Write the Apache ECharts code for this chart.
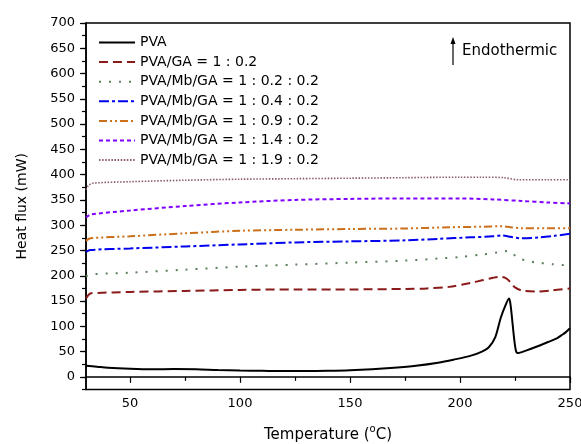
<!DOCTYPE html>
<html>
<head>
<meta charset="utf-8">
<script src="https://cdn.jsdelivr.net/npm/echarts@6/dist/echarts.min.js"></script>
<style>html,body{margin:0;padding:0;background:#fff;}#c{width:581px;height:444px;}</style>
</head>
<body>
<div id="c"></div>
<script>
// ---- data (temperature in °C, heat flux in mW) ----
const seriesNames = [
  'PVA',
  'PVA/GA = 1 : 0.2',
  'PVA/Mb/GA = 1 : 0.2 : 0.2',
  'PVA/Mb/GA = 1 : 0.4 : 0.2',
  'PVA/Mb/GA = 1 : 0.9 : 0.2',
  'PVA/Mb/GA = 1 : 1.4 : 0.2',
  'PVA/Mb/GA = 1 : 1.9 : 0.2'
];
const xTickLabels = [50, 100, 150, 200, 250];
const xMinorTicks = [75, 125, 175, 225];
const yTickLabels = [0,50,100,150,200,250,300,350,400,450,500,550,600,650,700];

const pva = [[30,22],[35,20],[40,18],[50,16],[60,15],[70,15.5],[80,15],[90,13.5],[100,12.5],[110,12],[120,11.5],[130,11.5],[140,12],[150,13],[160,15],[170,18],[180,22],[190,28],[197,34],[205,42],[210,50],[213,58],[216,78],[218.6,118],[221,145],[222.3,155],[223,142],[224.5,80],[225.4,52],[226.2,47],[230,52],[235,60],[240,69],[244,76],[246,82],[248,88],[250,96]];
const pvaGa = [[30,155],[32,165],[35,166],[50,168],[75,170],[100,172],[125,173],[150,173],[175,174],[185,175],[195,178],[205,186],[210,191],[215,196],[218,198],[221,195],[223,187],[225,177],[228,171],[235,169],[242,171],[250,175]];
const mb02 = [[30,199],[33,203],[50,206],[75,212],[100,218],[125,222],[150,226],[175,230],[190,234],[200,237],[210,242],[217,246],[222,249],[224,244],[226,236],[230,230],[235,226],[242,223],[250,220]];
const mb04 = [[30,247],[32,251],[50,254],[75,258],[100,262],[125,266],[150,268],[175,270],[190,273],[205,276],[215,278],[219,280],[223,277],[228,274],[236,276],[243,279],[250,283]];
const mb09 = [[30,269],[32,274],[50,278],[75,284],[100,289],[125,291],[150,292.5],[175,293.5],[195,296],[210,297],[218,298],[223,296],[228,294],[240,294],[250,294]];
const mb14 = [[30,315],[32,321],[50,329],[75,338],[100,345],[125,350],[150,352],[175,353],[200,353],[215,351],[228,348],[240,345],[250,343]];
const mb19 = [[30,370],[31,378],[33,383],[50,386],[75,389],[100,391],[125,392],[150,393],[175,394],[200,395],[210,395],[220,394],[226,390],[240,390],[250,390]];

const seriesData = [pva, pvaGa, mb02, mb04, mb09, mb14, mb19];
const colors = ['#000000', '#8B1A1A', '#5E7E5E', '#0000EE', '#CC6F1A', '#8000FF', '#8B5A6A'];
const dashes = ['solid', [9,5], [2,8], [10,3,3,3], [8,3,2,3,2,3], [4,3], [1.5,1.6]];
const widths = [2, 2, 2, 2, 2, 2, 1.6];

const FONT = 'DejaVu Sans';
const chart = echarts.init(document.getElementById('c'), null, {renderer: 'canvas'});

const series = seriesData.map((d, i) => ({
  name: seriesNames[i],
  type: 'line',
  data: d,
  showSymbol: false,
  symbol: 'none',
  smooth: 0.3,
  animation: false,
  z: 10 - i,
  lineStyle: {color: colors[i], width: widths[i], type: dashes[i]},
  itemStyle: {color: colors[i]}
}));

const axisLineStyle = {show: true, lineStyle: {color: '#000', width: 1.5}};

chart.setOption({
  animation: false,
  backgroundColor: '#fff',
  textStyle: {fontFamily: FONT, color: '#000'},
  grid: {left: 86, right: 11, top: 23, bottom: 54.5, show: true, borderColor: '#000', borderWidth: 1.5, backgroundColor: 'transparent', containLabel: false, outerBoundsMode: 'none'},
  legend: {
    orient: 'vertical',
    left: 93, top: 30.5,
    itemWidth: 36, itemHeight: 14, itemGap: 5.6,
    itemStyle: {opacity: 0, borderWidth: 0},
    textStyle: {fontFamily: FONT, fontSize: 14, color: '#000', padding: [0,0,0,0]},
    data: seriesNames
  },
  xAxis: [{
    type: 'value', min: 30, max: 250,
    axisLine: axisLineStyle,
    axisTick: {show: true, inside: false, length: 6, lineStyle: {color: '#000', width: 1.2}, customValues: xTickLabels},
    axisLabel: {show: true, margin: 8, fontSize: 13, fontFamily: FONT, color: '#000', customValues: xTickLabels},
    splitLine: {show: false},
    name: 'Temperature ({s|o}C)',
    nameLocation: 'middle', nameGap: 35,
    nameTextStyle: {fontSize: 15, fontFamily: FONT, color: '#000', lineHeight: 22,
      rich: {s: {fontSize: 10, fontFamily: FONT, color: '#000', verticalAlign: 'top', lineHeight: 10}}}
  }, {
    type: 'value', min: 30, max: 250, position: 'bottom', gridIndex: 0,
    axisLine: {show: false},
    axisTick: {show: true, inside: false, length: 4, lineStyle: {color: '#000', width: 1.2}, customValues: xMinorTicks},
    axisLabel: {show: false},
    splitLine: {show: false}
  }],
  yAxis: [{
    type: 'value', min: -25, max: 700, interval: 25,
    axisLine: axisLineStyle,
    axisTick: {show: true, inside: false, length: 4, lineStyle: {color: '#000', width: 1.2}},
    axisLabel: {show: true, margin: 11, fontSize: 13, fontFamily: FONT, color: '#000', customValues: yTickLabels},
    splitLine: {show: false},
    name: 'Heat flux (mW)',
    nameLocation: 'middle', nameGap: 57,
    nameTextStyle: {fontSize: 14, fontFamily: FONT, color: '#000'}
  }, {
    type: 'value', min: -25, max: 700, position: 'left', gridIndex: 0,
    axisLine: {show: false},
    axisTick: {show: true, inside: false, length: 6, lineStyle: {color: '#000', width: 1.2}, customValues: yTickLabels},
    axisLabel: {show: false},
    splitLine: {show: false}
  }],
  graphic: [
    {type: 'line', shape: {x1: 453, y1: 65, x2: 453, y2: 41}, style: {stroke: '#000', lineWidth: 1.2}, z: 100},
    {type: 'polygon', shape: {points: [[450.5, 44], [455.5, 44], [453, 37]]}, style: {fill: '#000'}, z: 100},
    {type: 'text', x: 462, y: 51.5, style: {text: 'Endothermic', fontFamily: FONT, fontSize: 15, fill: '#000', verticalAlign: 'middle', align: 'left'}, z: 100}
  ],
  series: series
});
</script>
</body>
</html>
